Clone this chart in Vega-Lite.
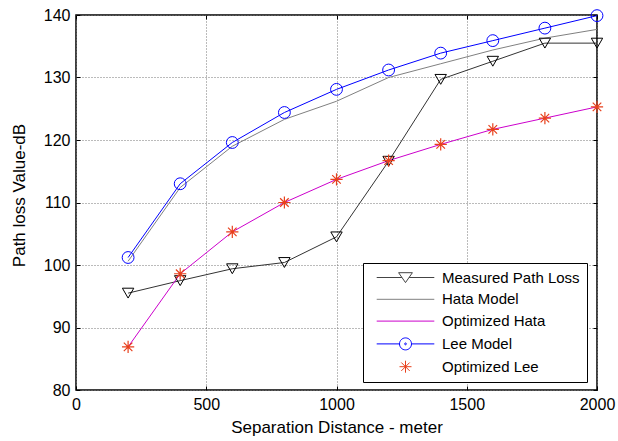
{
  "$schema": "https://vega.github.io/schema/vega-lite/v6.json",
  "width": 521,
  "height": 375,
  "autosize": "none",
  "padding": {"left": 76, "top": 15, "right": 21, "bottom": 51},
  "background": "white",
  "config": {
    "font": "Liberation Sans",
    "view": {"stroke": "black", "strokeWidth": 1.5},
    "axis": {
      "labelFont": "Liberation Sans",
      "labelFontSize": 16,
      "labelColor": "black",
      "labelFlush": false,
      "titleFont": "Liberation Sans",
      "titleFontSize": 17,
      "titleFontWeight": "normal",
      "titleColor": "black",
      "tickColor": "black",
      "domain": false,
      "gridColor": "#777",
      "gridDash": [1, 2],
      "gridWidth": 1
    }
  },
  "data": {
    "values": [
      {"d": 200, "series": "Measured Path Loss", "v": 95.5},
      {"d": 400, "series": "Measured Path Loss", "v": 97.5},
      {"d": 600, "series": "Measured Path Loss", "v": 99.4},
      {"d": 800, "series": "Measured Path Loss", "v": 100.4},
      {"d": 1000, "series": "Measured Path Loss", "v": 104.5},
      {"d": 1200, "series": "Measured Path Loss", "v": 116.6},
      {"d": 1400, "series": "Measured Path Loss", "v": 129.7},
      {"d": 1600, "series": "Measured Path Loss", "v": 132.6},
      {"d": 1800, "series": "Measured Path Loss", "v": 135.5},
      {"d": 2000, "series": "Measured Path Loss", "v": 135.5},
      {"d": 200, "series": "Hata Model", "v": 100.6},
      {"d": 400, "series": "Hata Model", "v": 112.4},
      {"d": 600, "series": "Hata Model", "v": 119.0},
      {"d": 800, "series": "Hata Model", "v": 123.3},
      {"d": 1000, "series": "Hata Model", "v": 126.2},
      {"d": 1200, "series": "Hata Model", "v": 130.0},
      {"d": 1400, "series": "Hata Model", "v": 132.2},
      {"d": 1600, "series": "Hata Model", "v": 134.4},
      {"d": 1800, "series": "Hata Model", "v": 136.3},
      {"d": 2000, "series": "Hata Model", "v": 137.7},
      {"d": 200, "series": "Optimized Hata", "v": 86.9},
      {"d": 400, "series": "Optimized Hata", "v": 98.6},
      {"d": 600, "series": "Optimized Hata", "v": 105.3},
      {"d": 800, "series": "Optimized Hata", "v": 110.0},
      {"d": 1000, "series": "Optimized Hata", "v": 113.7},
      {"d": 1200, "series": "Optimized Hata", "v": 116.7},
      {"d": 1400, "series": "Optimized Hata", "v": 119.3},
      {"d": 1600, "series": "Optimized Hata", "v": 121.7},
      {"d": 1800, "series": "Optimized Hata", "v": 123.5},
      {"d": 2000, "series": "Optimized Hata", "v": 125.3},
      {"d": 200, "series": "Lee Model", "v": 101.2},
      {"d": 400, "series": "Lee Model", "v": 113.0},
      {"d": 600, "series": "Lee Model", "v": 119.6},
      {"d": 800, "series": "Lee Model", "v": 124.4},
      {"d": 1000, "series": "Lee Model", "v": 128.1},
      {"d": 1200, "series": "Lee Model", "v": 131.2},
      {"d": 1400, "series": "Lee Model", "v": 133.9},
      {"d": 1600, "series": "Lee Model", "v": 135.9},
      {"d": 1800, "series": "Lee Model", "v": 137.9},
      {"d": 2000, "series": "Lee Model", "v": 139.9},
      {"d": 200, "series": "Optimized Lee", "v": 86.9},
      {"d": 400, "series": "Optimized Lee", "v": 98.6},
      {"d": 600, "series": "Optimized Lee", "v": 105.3},
      {"d": 800, "series": "Optimized Lee", "v": 110.0},
      {"d": 1000, "series": "Optimized Lee", "v": 113.7},
      {"d": 1200, "series": "Optimized Lee", "v": 116.7},
      {"d": 1400, "series": "Optimized Lee", "v": 119.3},
      {"d": 1600, "series": "Optimized Lee", "v": 121.7},
      {"d": 1800, "series": "Optimized Lee", "v": 123.5},
      {"d": 2000, "series": "Optimized Lee", "v": 125.3}
    ]
  },
  "encoding": {
    "x": {"field": "d", "type": "quantitative", "scale": {"domain": [0, 2000], "nice": false, "zero": false}},
    "y": {"field": "v", "type": "quantitative", "scale": {"domain": [80, 140], "nice": false, "zero": false}}
  },
  "resolve": {"axis": {"x": "independent", "y": "independent"}},
  "layer": [
    {
      "transform": [{"filter": "datum.series === 'Hata Model'"}],
      "mark": {"type": "line", "stroke": "#808080", "strokeWidth": 1},
      "encoding": {
        "x": {"field": "d", "type": "quantitative", "axis": {"orient": "bottom", "values": [0, 500, 1000, 1500, 2000], "format": "d", "grid": true, "tickSize": -4, "labelPadding": 10, "title": "Separation Distance - meter", "titlePadding": 7}},
        "y": {"field": "v", "type": "quantitative", "axis": {"orient": "left", "values": [80, 90, 100, 110, 120, 130, 140], "format": "d", "grid": true, "tickSize": -4, "labelPadding": 10, "title": "Path loss Value-dB", "titlePadding": 15, "titleY": 180}}
      }
    },
    {
      "transform": [{"filter": "datum.series === 'Measured Path Loss'"}],
      "mark": {"type": "line", "stroke": "#333333", "strokeWidth": 1},
      "encoding": {
        "x": {"field": "d", "type": "quantitative", "axis": {"orient": "top", "values": [0, 500, 1000, 1500, 2000], "grid": false, "labels": false, "tickSize": -4, "title": null}},
        "y": {"field": "v", "type": "quantitative", "axis": {"orient": "right", "values": [80, 90, 100, 110, 120, 130, 140], "grid": false, "labels": false, "tickSize": -4, "title": null}}
      }
    },
    {
      "transform": [{"filter": "datum.series === 'Optimized Hata'"}],
      "mark": {"type": "line", "stroke": "#cc00cc", "strokeWidth": 1},
      "encoding": {
        "x": {"field": "d", "type": "quantitative", "axis": null},
        "y": {"field": "v", "type": "quantitative", "axis": null}
      }
    },
    {
      "transform": [{"filter": "datum.series === 'Lee Model'"}],
      "mark": {"type": "line", "stroke": "#0000ff", "strokeWidth": 1},
      "encoding": {
        "x": {"field": "d", "type": "quantitative", "axis": null},
        "y": {"field": "v", "type": "quantitative", "axis": null}
      }
    },
    {
      "transform": [{"filter": "datum.series === 'Measured Path Loss'"}],
      "mark": {"type": "point", "shape": "triangle-down", "filled": false, "stroke": "black", "strokeWidth": 1, "size": 130, "opacity": 1},
      "encoding": {
        "x": {"field": "d", "type": "quantitative", "axis": null},
        "y": {"field": "v", "type": "quantitative", "axis": null}
      }
    },
    {
      "transform": [{"filter": "datum.series === 'Lee Model'"}],
      "mark": {"type": "point", "shape": "circle", "filled": false, "stroke": "#0000ff", "strokeWidth": 1, "size": 140, "opacity": 1},
      "encoding": {
        "x": {"field": "d", "type": "quantitative", "axis": null},
        "y": {"field": "v", "type": "quantitative", "axis": null}
      }
    },
    {
      "transform": [{"filter": "datum.series === 'Optimized Lee'"}],
      "mark": {"type": "point", "shape": "M0,-1L0,1M-1,0L1,0M-0.7,-0.7L0.7,0.7M-0.7,0.7L0.7,-0.7", "filled": false, "stroke": "#e8401c", "strokeWidth": 1.2, "size": 150, "opacity": 1},
      "encoding": {
        "x": {"field": "d", "type": "quantitative", "axis": null},
        "y": {"field": "v", "type": "quantitative", "axis": null}
      }
    },
    {
      "mark": {"type": "point", "filled": false, "opacity": 0, "size": 144, "strokeWidth": 1},
      "encoding": {
        "x": {"field": "d", "type": "quantitative", "axis": null},
        "y": {"field": "v", "type": "quantitative", "axis": null},
        "color": {
          "field": "label", "type": "nominal",
          "scale": {"domain": ["Measured Path Loss", "Hata Model", "\u00a0Optimized Hata", "Lee Model", "\u00a0Optimized Lee"], "range": ["#444444", "#808080", "#cc00cc", "#0000ff", "#e8401c"]},
          "legend": {
            "title": null, "orient": "none", "legendX": 287, "legendY": 248,
            "padding": 7, "symbolOffset": 28, "labelOffset": 29, "rowPadding": 5.8,
            "labelFont": "Liberation Sans", "labelFontSize": 15, "labelColor": "black",
            "strokeColor": "black", "fillColor": "white", "symbolOpacity": 1, "symbolStrokeWidth": 1, "symbolSize": 144,
            "symbolFillColor": "transparent",
            "encode": {"symbols": {"update": {"opacity": {"value": 1}, "fill": {"value": "transparent"}}}}
          }
        },
        "shape": {
          "field": "label", "type": "nominal",
          "scale": {"domain": ["Measured Path Loss", "Hata Model", "\u00a0Optimized Hata", "Lee Model", "\u00a0Optimized Lee"], "range": [
            "M-4.8,0L-0.6,0M0.6,0L4.8,0M-1.15,-0.8L1.15,-0.8L0,0.85Z",
            "M-4.8,0L4.8,0",
            "M-4.8,0L4.8,0",
            "M-4.8,0L-1,0M1,0L4.8,0M-1,0A1,1 0 1,1 1,0A1,1 0 1,1 -1,0M-0.15,0A0.15,0.15 0 1,1 0.15,0A0.15,0.15 0 1,1 -0.15,0",
            "M0,-1L0,1M-1,0L1,0M-0.7,-0.7L0.7,0.7M-0.7,0.7L0.7,-0.7"
          ]}
        }
      },
      "transform": [{"filter": "datum.series === 'Hata Model'"}, {"lookup": "series", "from": {"data": {"values": [{"series": "Hata Model", "label": "Hata Model"}]}, "key": "series", "fields": ["label"]}}]
    }
  ]
}
